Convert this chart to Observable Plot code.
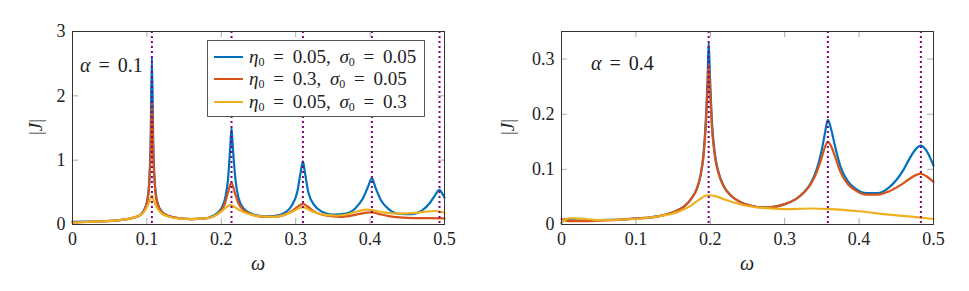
<!DOCTYPE html>
<html><head><meta charset="utf-8">
<script src="https://cdn.jsdelivr.net/npm/d3@7"></script>
<script src="https://cdn.jsdelivr.net/npm/@observablehq/plot@0.6"></script>
<style>
body{margin:0;background:#fff;}
#wrap{position:relative;width:969px;height:291px;font-family:'Liberation Serif','Times New Roman','DejaVu Serif','Noto Serif',serif;color:#222;}
#wrap svg{position:absolute;top:0;}
#wrap svg text{font-family:'Liberation Serif','Times New Roman','DejaVu Serif','Noto Serif',serif;}
.lbl{position:absolute;font-size:20px;white-space:nowrap;line-height:1;word-spacing:3px;}
.ylab{position:absolute;font-size:19px;white-space:nowrap;transform:translate(-50%,-50%) rotate(-90deg);line-height:1;}
.xlab{position:absolute;font-size:20px;white-space:nowrap;transform:translate(-50%,-50%);line-height:1;}
i{font-style:italic;}
sub{font-size:12px;vertical-align:-3px;line-height:0;}
.legend{position:absolute;left:207px;top:40px;width:218px;height:77px;border:1px solid #555;background:#fff;box-sizing:border-box;}
.legend .row{position:absolute;left:6px;height:18px;display:flex;align-items:center;font-size:19px;line-height:18px;white-space:nowrap;word-spacing:4px;}
.legend .row span{line-height:18px;}
.legend .sw{width:29px;height:2.4px;margin-right:6px;}
</style></head>
<body>
<div id="wrap"></div>
<script>
// ---------- data ----------
const xTicks = [0, 0.1, 0.2, 0.3, 0.4, 0.5];
const yTicksL = [0, 1, 2, 3];
const yTicksR = [0, 0.1, 0.2, 0.3];
const yTickLabelsR = ["0", "0.1", "0.2", "0.3"];
const seriesNames = ["η0 = 0.05, σ0 = 0.05", "η0 = 0.3, σ0 = 0.05", "η0 = 0.05, σ0 = 0.3"];
const colors = ["#0072BD", "#D95319", "#EDB120"];
const resonL = [0.1067, 0.2137, 0.3097, 0.4024, 0.4933];
const resonR = [0.1978, 0.358, 0.483];

// alpha = 0.1 panel
const leftBlue = [[0,0.04],[0.02,0.045],[0.04,0.05],[0.06,0.065],[0.08,0.1],[0.09,0.14],[0.095,0.2],[0.1,0.35],[0.103,0.65],[0.105,1.3],[0.1067,2.6],[0.1085,1.3],[0.111,0.6],[0.114,0.35],[0.12,0.2],[0.13,0.13],[0.145,0.095],[0.16,0.085],[0.175,0.09],[0.19,0.14],[0.2,0.25],[0.205,0.4],[0.209,0.7],[0.212,1.2],[0.2137,1.5],[0.2155,1.2],[0.219,0.7],[0.223,0.42],[0.23,0.25],[0.24,0.17],[0.255,0.13],[0.27,0.13],[0.285,0.18],[0.295,0.3],[0.302,0.5],[0.3065,0.8],[0.3097,0.98],[0.3125,0.8],[0.317,0.5],[0.325,0.3],[0.335,0.2],[0.35,0.155],[0.365,0.165],[0.38,0.25],[0.39,0.4],[0.397,0.58],[0.4024,0.72],[0.407,0.58],[0.415,0.37],[0.425,0.24],[0.44,0.165],[0.455,0.16],[0.47,0.22],[0.48,0.33],[0.487,0.45],[0.4933,0.54],[0.497,0.48],[0.5,0.42]];
const leftRed = [[0,0.03],[0.02,0.04],[0.04,0.05],[0.06,0.065],[0.08,0.1],[0.09,0.14],[0.095,0.19],[0.1,0.33],[0.103,0.6],[0.105,1.1],[0.1067,1.9],[0.1085,1.1],[0.111,0.55],[0.114,0.33],[0.12,0.19],[0.13,0.13],[0.145,0.095],[0.16,0.085],[0.175,0.09],[0.19,0.13],[0.2,0.22],[0.205,0.33],[0.209,0.5],[0.2137,0.65],[0.218,0.5],[0.223,0.33],[0.23,0.22],[0.24,0.16],[0.255,0.12],[0.27,0.12],[0.285,0.15],[0.295,0.21],[0.303,0.28],[0.3097,0.32],[0.316,0.28],[0.325,0.2],[0.34,0.14],[0.36,0.12],[0.38,0.15],[0.395,0.185],[0.4024,0.19],[0.41,0.17],[0.425,0.13],[0.44,0.11],[0.46,0.1],[0.48,0.1],[0.5,0.095]];
const leftYellow = [[0,0.03],[0.02,0.04],[0.04,0.05],[0.06,0.065],[0.08,0.1],[0.09,0.14],[0.095,0.18],[0.1,0.27],[0.104,0.38],[0.1067,0.45],[0.109,0.38],[0.113,0.27],[0.12,0.17],[0.13,0.12],[0.145,0.09],[0.16,0.085],[0.175,0.09],[0.19,0.13],[0.2,0.2],[0.207,0.27],[0.212,0.3],[0.218,0.27],[0.225,0.22],[0.235,0.17],[0.25,0.13],[0.27,0.12],[0.285,0.15],[0.297,0.21],[0.306,0.26],[0.31,0.27],[0.316,0.24],[0.325,0.19],[0.34,0.15],[0.355,0.14],[0.37,0.16],[0.385,0.21],[0.395,0.23],[0.405,0.22],[0.42,0.185],[0.44,0.17],[0.46,0.18],[0.475,0.2],[0.488,0.21],[0.5,0.18]];

// alpha = 0.4 panel
const rightBlue = [[0,0.003],[0.005,0.01],[0.015,0.008],[0.03,0.007],[0.05,0.008],[0.08,0.009],[0.1,0.011],[0.12,0.013],[0.14,0.018],[0.155,0.025],[0.165,0.033],[0.175,0.048],[0.182,0.065],[0.187,0.09],[0.191,0.13],[0.194,0.19],[0.1965,0.27],[0.1978,0.33],[0.1995,0.27],[0.202,0.19],[0.206,0.13],[0.211,0.095],[0.218,0.07],[0.228,0.052],[0.24,0.041],[0.255,0.034],[0.27,0.031],[0.285,0.032],[0.3,0.037],[0.315,0.046],[0.325,0.057],[0.335,0.075],[0.343,0.1],[0.349,0.13],[0.354,0.165],[0.358,0.19],[0.362,0.175],[0.368,0.14],[0.375,0.105],[0.385,0.078],[0.395,0.065],[0.41,0.057],[0.425,0.057],[0.44,0.067],[0.46,0.1],[0.468,0.12],[0.477,0.138],[0.483,0.143],[0.49,0.135],[0.5,0.107]];
const rightRed = [[0,0.01],[0.01,0.006],[0.03,0.006],[0.05,0.007],[0.08,0.009],[0.1,0.011],[0.12,0.013],[0.14,0.018],[0.155,0.025],[0.165,0.033],[0.175,0.048],[0.182,0.065],[0.187,0.09],[0.191,0.125],[0.194,0.18],[0.1965,0.25],[0.1978,0.29],[0.1995,0.25],[0.202,0.18],[0.206,0.125],[0.211,0.093],[0.218,0.069],[0.228,0.052],[0.24,0.041],[0.255,0.034],[0.27,0.031],[0.285,0.032],[0.3,0.037],[0.315,0.046],[0.325,0.057],[0.335,0.073],[0.343,0.095],[0.349,0.118],[0.354,0.14],[0.358,0.15],[0.362,0.143],[0.368,0.122],[0.375,0.095],[0.385,0.073],[0.395,0.062],[0.41,0.054],[0.425,0.054],[0.44,0.06],[0.455,0.071],[0.468,0.083],[0.477,0.09],[0.483,0.092],[0.49,0.088],[0.5,0.077]];
const rightYellow = [[0,0.004],[0.01,0.011],[0.02,0.011],[0.05,0.008],[0.1,0.01],[0.13,0.015],[0.155,0.022],[0.175,0.035],[0.185,0.045],[0.196,0.053],[0.205,0.052],[0.22,0.045],[0.245,0.035],[0.27,0.03],[0.3,0.028],[0.335,0.029],[0.36,0.028],[0.4,0.024],[0.44,0.018],[0.48,0.013],[0.5,0.01]];

// ---------- drawing ----------
const wrap = document.getElementById("wrap");
const FONT = "'Liberation Serif','Times New Roman','DejaVu Serif','Noto Serif',serif";

function panel({left, width, ml, mr, yDomain, yTicks, yFmt, series, reson}) {
  const mt = 31, mb = 67, H = 291;
  const ph = H - mt - mb, pw = width - ml - mr;
  const TL = 6;
  const marks = [];
  series.forEach((s, i) => marks.push(Plot.line(s, {x: d => d[0], y: d => d[1], stroke: colors[i], strokeWidth: 2.2, curve: "monotone-x"})));
  marks.push(Plot.ruleX(reson, {stroke: "#800080", strokeWidth: 2, strokeDasharray: "2,3"}));
  // inward ticks on all four sides
  marks.push(Plot.tickX(xTicks, {x: d => d, insetTop: ph - TL, stroke: "#aaa"}));
  marks.push(Plot.tickX(xTicks, {x: d => d, insetBottom: ph - TL, stroke: "#aaa"}));
  marks.push(Plot.tickY(yTicks, {y: d => d, insetRight: pw - TL, stroke: "#aaa"}));
  marks.push(Plot.tickY(yTicks, {y: d => d, insetLeft: pw - TL, stroke: "#aaa"}));
  marks.push(Plot.axisX({ticks: xTicks, tickSize: 0, tickPadding: 8, tickFormat: d => d === 0 ? "0" : String(d), label: null, fontSize: 18}));
  marks.push(Plot.axisY({ticks: yTicks, tickSize: 0, tickPadding: 7, tickFormat: yFmt, label: null, fontSize: 18}));
  marks.push(Plot.frame({stroke: "#333", strokeWidth: 1}));
  const svg = Plot.plot({
    width, height: H, marginLeft: ml, marginRight: mr, marginTop: mt, marginBottom: mb,
    style: {fontFamily: FONT, fontSize: "18px", color: "#222", background: "transparent", overflow: "visible"},
    x: {domain: [0, 0.5]},
    y: {domain: yDomain},
    marks
  });
  svg.style.left = left + "px";
  wrap.appendChild(svg);
}

panel({left: 0, width: 480, ml: 72, mr: 36, yDomain: [0, 3], yTicks: yTicksL, yFmt: d => String(d), series: [leftBlue, leftRed, leftYellow], reson: resonL});
panel({left: 480, width: 489, ml: 81, mr: 36, yDomain: [0, 0.35], yTicks: yTicksR, yFmt: (d, i) => yTickLabelsR[i], series: [rightBlue, rightRed, rightYellow], reson: resonR});

// labels (HTML overlays)
function add(html, cls, x, y) {
  const d = document.createElement("div");
  d.className = cls; d.innerHTML = html;
  d.style.left = x + "px"; d.style.top = y + "px";
  wrap.appendChild(d);
  return d;
}
add("|<i>J</i>|", "ylab", 35, 127);
add("|<i>J</i>|", "ylab", 507, 127);
add("<i>ω</i>", "xlab", 258, 263);
add("<i>ω</i>", "xlab", 747, 263);
add("<i>α</i> = 0.1", "lbl", 80, 55);
add("<i>α</i> = 0.4", "lbl", 591, 53);

const lg = document.createElement("div");
lg.className = "legend";
seriesNames.forEach((n, i) => {
  const r = document.createElement("div");
  r.className = "row";
  r.style.top = [7, 29, 52][i] + "px";
  const [eta, sig] = n.replace("η0 = ", "").split(", σ0 = ");
  r.innerHTML = `<span class="sw" style="background:${colors[i]}"></span><span><i>η</i><sub>0</sub> = ${eta}, <i>σ</i><sub>0</sub> = ${sig}</span>`;
  lg.appendChild(r);
});
wrap.appendChild(lg);
</script>
</body></html>
